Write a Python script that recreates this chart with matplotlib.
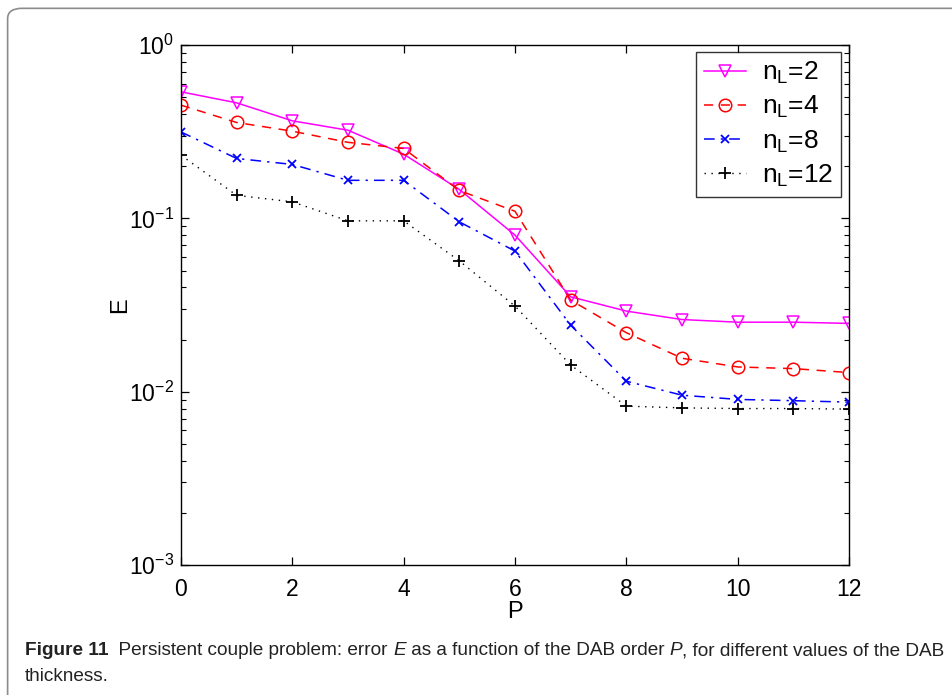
import matplotlib
matplotlib.use('Agg')
import matplotlib.pyplot as plt
from matplotlib.patches import FancyBboxPatch
from matplotlib.ticker import LogLocator, NullFormatter

plt.rcParams['font.family'] = ['Liberation Sans', 'DejaVu Sans']
plt.rcParams['mathtext.fontset'] = 'custom'
plt.rcParams['mathtext.rm'] = 'Liberation Sans'
plt.rcParams['mathtext.it'] = 'Liberation Sans:italic'

# Données
P = [0, 1, 2, 3, 4, 5, 6, 7, 8, 9, 10, 11, 12]
E_n2 = [0.538, 0.465, 0.366, 0.323, 0.235, 0.147, 0.0801, 0.0353, 0.0292, 0.0261, 0.0252, 0.0252, 0.0248]
E_n4 = [0.451, 0.358, 0.319, 0.275, 0.2535, 0.145, 0.110, 0.0338, 0.0219, 0.0156, 0.0139, 0.0136, 0.0129]
E_n8 = [0.316, 0.222, 0.205, 0.166, 0.166, 0.0956, 0.0648, 0.0242, 0.0115, 0.00955, 0.00903, 0.00888, 0.00871]
E_n12 = [0.232, 0.136, 0.1247, 0.0969, 0.0969, 0.0569, 0.0312, 0.01425, 0.00826, 0.00807, 0.0080, 0.0080, 0.00794]
labels = ['n$_\\mathregular{L}$=2', 'n$_\\mathregular{L}$=4', 'n$_\\mathregular{L}$=8', 'n$_\\mathregular{L}$=12']

fig = plt.figure(figsize=(9.52, 6.95), dpi=100)
ax = fig.add_axes([0.190, 0.187, 0.702, 0.748])

# Courbes
ax.plot(P, E_n2, color='#ff00ff', linestyle='-', linewidth=1.1, marker='v',
        markersize=9, markerfacecolor='none', markeredgewidth=1.1, label=labels[0])
ax.plot(P, E_n4, color='#ff0000', linestyle=(0, (6, 5)), linewidth=1.1, marker='o',
        markersize=9, markerfacecolor='none', markeredgewidth=1.1, label=labels[1])
ax.plot(P, E_n8, color='#0000ff', linestyle=(0, (7, 4, 1.5, 4)), linewidth=1.1, marker='x',
        markersize=6, markeredgewidth=1.3, label=labels[2])
ax.plot(P, E_n12, color='black', linestyle=(0, (1, 4)), linewidth=1.0, marker='+',
        markersize=9, markeredgewidth=1.3, label=labels[3])

ax.set_yscale('log')
ax.set_xlim(0, 12)
ax.set_ylim(1e-3, 1)
ax.set_xticks(range(0, 13, 2))
ax.yaxis.set_major_locator(LogLocator(base=10, numticks=10))
ax.yaxis.set_minor_locator(LogLocator(base=10, subs=range(2, 10), numticks=10))
ax.yaxis.set_minor_formatter(NullFormatter())
ax.tick_params(which='both', direction='in', top=True, right=True, labelsize=16.5)
ax.tick_params(axis='x', pad=9)
ax.tick_params(axis='y', pad=5)
ax.tick_params(which='major', length=6, width=0.9)
ax.tick_params(which='minor', length=3.5, width=0.8)
for s in ax.spines.values():
    s.set_linewidth(1.0)

ax.set_xlabel('P', fontsize=17, labelpad=0)
ax.set_ylabel('E', fontsize=17, labelpad=-2)

leg = ax.legend(loc='upper right', fontsize=19, frameon=True, fancybox=False,
                edgecolor='black', handlelength=1.6, handletextpad=0.6,
                borderpad=0.3, labelspacing=0.3, borderaxespad=0,
                bbox_to_anchor=(0.988, 0.9865))
leg.get_frame().set_linewidth(1.0)

# Cadre arrondi
frame = FancyBboxPatch((0.008, -0.2), 1.2, 1.188,
                       boxstyle='round,pad=0,rounding_size=0.015',
                       transform=fig.transFigure, facecolor='none',
                       edgecolor='#8c8c8c', linewidth=1.2, clip_on=False)
fig.patches.append(frame)

# Légende de la figure
cap_font = ['Liberation Sans', 'DejaVu Sans']
renderer = fig.canvas.get_renderer()
segments = [('Figure 11', 'bold', 'normal'),
            ('  Persistent couple problem: error ', 'normal', 'normal'),
            ('E', 'normal', 'italic'),
            (' as a function of the DAB order ', 'normal', 'normal'),
            ('P', 'normal', 'italic'),
            (', for different values of the DAB', 'normal', 'normal')]
x0 = 25 / 952
y1 = 1 - 655 / 695
x = x0
for txt, w, st in segments:
    t = fig.text(x, y1, txt, fontsize=13.65, fontweight=w, fontstyle=st,
                 family=cap_font, color='#222222')
    bb = t.get_window_extent(renderer=renderer)
    x = x + bb.width / fig.bbox.width
fig.text(x0, 1 - 681 / 695, 'thickness.', fontsize=13.65, family=cap_font, color='#222222')

plt.savefig('out.png', dpi=100)
